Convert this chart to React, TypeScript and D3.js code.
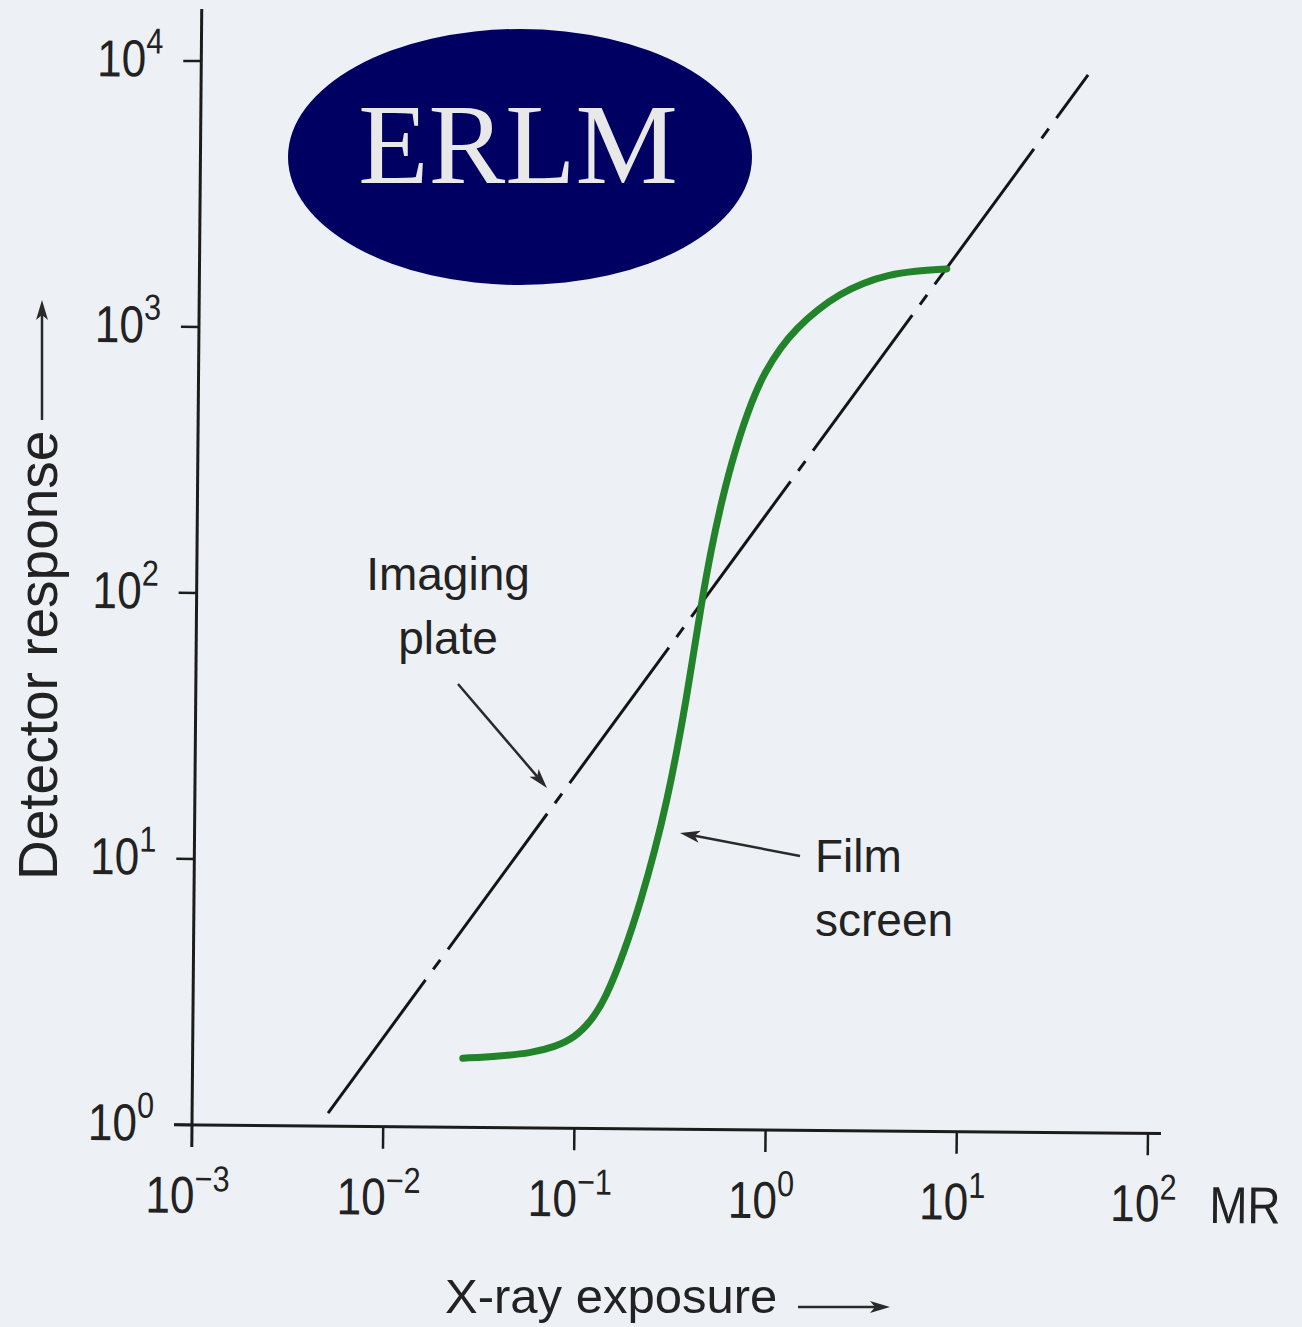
import React, { useRef, useEffect } from 'react';
import * as d3 from 'd3';

// axis ticks
const xTicks = [1e-3, 1e-2, 1e-1, 1e0, 1e1, 1e2];
const xTickExp = ['−3', '−2', '−1', '0', '1', '2'];
const yTicks = [1e0, 1e1, 1e2, 1e3, 1e4];
const yTickExp = ['0', '1', '2', '3', '4'];

// imaging plate: straight (linear) response
const plateExposure = [0.00514, 43.5];
const plateResponse = [1.12, 9480];

// film screen: S-shaped response
const filmExposure = [0.0259, 0.0406, 0.0582, 0.0785, 0.0998, 0.1194, 0.1426, 0.1806, 0.218, 0.2565, 0.295, 0.331, 0.367, 0.402, 0.44, 0.488, 0.553, 0.644, 0.787, 0.917, 1.096, 1.343, 1.706, 2.244, 2.958, 3.99, 5.52, 8.1];
const filmResponse = [1.82, 1.86, 1.91, 2.02, 2.2, 2.51, 3.04, 4.7, 7.26, 11.2, 17.3, 26.6, 41.1, 63.4, 97.9, 151, 233, 359, 555, 707, 871, 1038, 1216, 1397, 1541, 1653, 1714, 1750];

const W = 1302;
const H = 1327;
const SANS = "'Liberation Sans', Arial, Helvetica, sans-serif";
const INK = '#1c1c1c';

const arrow = (sel, x1, y1, x2, y2, len = 20, half = 6) => {
  const a = Math.atan2(y2 - y1, x2 - x1);
  const bx = x2 - len * Math.cos(a);
  const by = y2 - len * Math.sin(a);
  const nx = -Math.sin(a) * half;
  const ny = Math.cos(a) * half;
  const notchX = x2 - len * 0.75 * Math.cos(a);
  const notchY = y2 - len * 0.75 * Math.sin(a);
  sel.append('line')
    .attr('x1', x1).attr('y1', y1).attr('x2', notchX).attr('y2', notchY)
    .attr('stroke', '#2a2a2a').attr('stroke-width', 2.5);
  sel.append('path')
    .attr('d', `M${x2},${y2} L${bx + nx},${by + ny} L${notchX},${notchY} L${bx - nx},${by - ny} Z`)
    .attr('fill', '#2a2a2a');
};

const App = () => {
  const ref = useRef(null);

  useEffect(() => {
    const svg = d3.select(ref.current);
    svg.selectAll('*').remove();

    svg.append('rect').attr('width', W).attr('height', H).attr('fill', '#edf1f6');

    const x = d3.scaleLog().domain([1e-3, 1e2]).range([0, 956]);
    const y = d3.scaleLog().domain([1, 1e4]).range([0, -1064]);

    // the scanned figure sits slightly rotated
    const g = svg.append('g').attr('transform', 'translate(192,1125) rotate(0.5)');

    // axes
    g.append('line').attr('x1', 0).attr('y1', 22).attr('x2', 0).attr('y2', -1116)
      .attr('stroke', INK).attr('stroke-width', 3);
    g.append('line').attr('x1', -18).attr('y1', 0).attr('x2', 969).attr('y2', 0)
      .attr('stroke', INK).attr('stroke-width', 3);

    g.selectAll('.ytick').data(yTicks).enter().append('line')
      .attr('x1', -18).attr('x2', 0)
      .attr('y1', (d) => y(d)).attr('y2', (d) => y(d))
      .attr('stroke', INK).attr('stroke-width', 2.5);
    g.selectAll('.xtick').data(xTicks.slice(1)).enter().append('line')
      .attr('x1', (d) => x(d)).attr('x2', (d) => x(d))
      .attr('y1', 0).attr('y2', 22)
      .attr('stroke', INK).attr('stroke-width', 2.5);

    // tick labels
    yTicks.forEach((v, i) => {
      const t = g.append('g')
        .attr('transform', `translate(-38,${y(v) + 16}) scale(0.85,1)`)
        .append('text')
        .attr('text-anchor', 'end')
        .attr('font-family', SANS)
        .attr('font-size', 52)
        .attr('fill', '#222');
      t.append('tspan').text('10');
      t.append('tspan').attr('dy', -23).attr('font-size', 36).text(yTickExp[i]);
    });
    xTicks.forEach((v, i) => {
      const t = g.append('g')
        .attr('transform', `translate(${x(v) - 4},88) scale(0.85,1)`)
        .append('text')
        .attr('text-anchor', 'middle')
        .attr('font-family', SANS)
        .attr('font-size', 52)
        .attr('fill', '#222');
      t.append('tspan').text('10');
      t.append('tspan').attr('dy', -22).attr('font-size', 36).text(xTickExp[i]);
    });
    g.append('g')
      .attr('transform', 'translate(1018,89) scale(0.88,1)')
      .append('text')
      .attr('font-family', SANS)
      .attr('font-size', 52)
      .attr('fill', '#222')
      .text('MR');

    // imaging plate line (dash-dot)
    const plate = plateExposure.map((e, i) => [e, plateResponse[i]]);
    const line = d3.line().x((d) => x(d[0])).y((d) => y(d[1]));
    g.append('path')
      .attr('d', line(plate))
      .attr('fill', 'none')
      .attr('stroke', '#151515')
      .attr('stroke-width', 3)
      .attr('stroke-dasharray', '168 13 12 13')
      .attr('stroke-dashoffset', 3);

    // film screen curve
    const film = filmExposure.map((e, i) => [e, filmResponse[i]]);
    const curve = d3.line().x((d) => x(d[0])).y((d) => y(d[1])).curve(d3.curveBasis);
    g.append('path')
      .attr('d', curve(film))
      .attr('fill', 'none')
      .attr('stroke', '#22832a')
      .attr('stroke-width', 7)
      .attr('stroke-linecap', 'round');

    // annotations
    const txt = (tx, ty, s, size = 46, anchor = 'start') =>
      svg.append('text')
        .attr('x', tx).attr('y', ty)
        .attr('text-anchor', anchor)
        .attr('font-family', SANS)
        .attr('font-size', size)
        .attr('fill', '#222')
        .text(s);

    txt(448, 590, 'Imaging', 46, 'middle');
    txt(448, 654, 'plate', 46, 'middle');
    arrow(svg, 458, 684, 547, 788);

    txt(815, 872, 'Film');
    txt(815, 936, 'screen');
    arrow(svg, 800, 856, 680, 833);

    txt(445, 1313, 'X-ray exposure', 49);
    arrow(svg, 798, 1307, 890, 1307, 20, 6);

    svg.append('text')
      .attr('transform', 'translate(57,880) rotate(-90)')
      .attr('font-family', SANS)
      .attr('font-size', 55)
      .attr('fill', '#222')
      .text('Detector response');
    arrow(svg, 42, 420, 42, 300, 20, 6);

    // logo
    svg.append('ellipse')
      .attr('cx', 520).attr('cy', 157).attr('rx', 232).attr('ry', 128)
      .attr('fill', '#000062');
    svg.append('text')
      .attr('x', 518).attr('y', 183)
      .attr('text-anchor', 'middle')
      .attr('font-family', "'Liberation Serif', 'Times New Roman', serif")
      .attr('font-size', 115)
      .attr('fill', '#e8e8e8')
      .text('ERLM');
  }, []);

  return <svg ref={ref} width={W} height={H} style={{ position: 'absolute', left: 0, top: 0 }} />;
};

export default App;
